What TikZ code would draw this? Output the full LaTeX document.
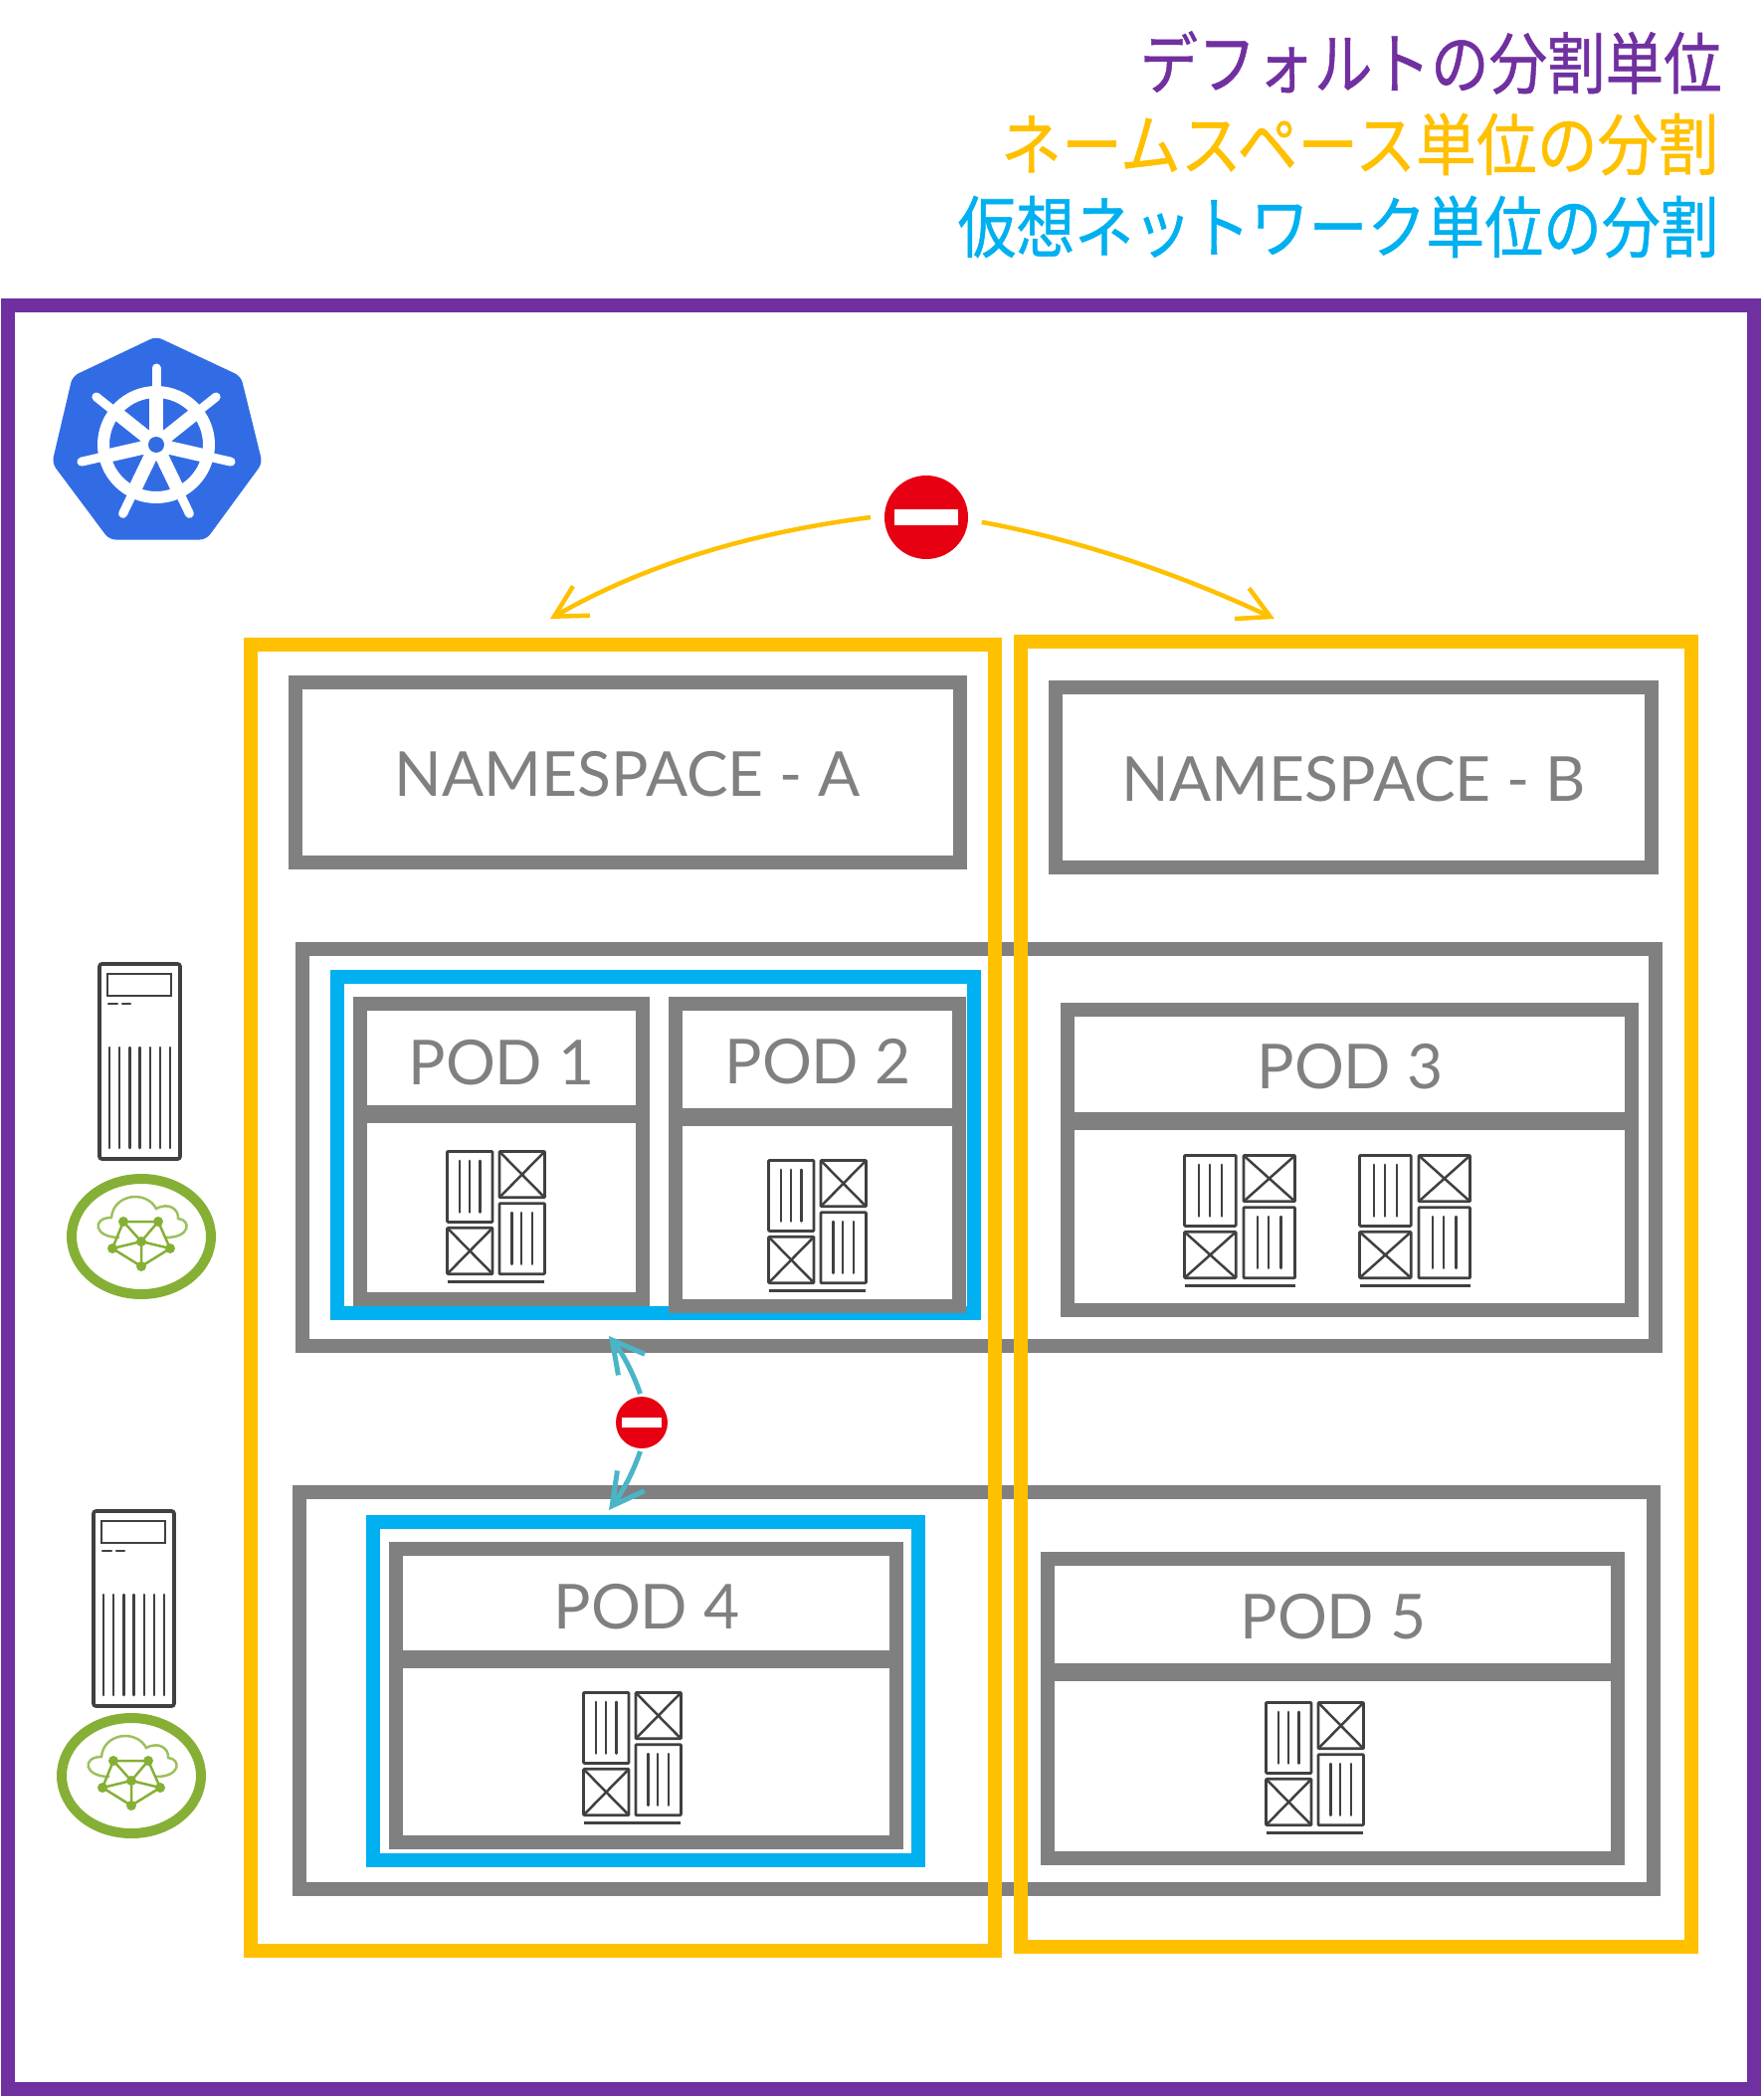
\documentclass[tikz,border=0pt]{standalone}
\usepackage{fontspec}
\setmainfont{Lato}
\newfontfamily\cjkfont[FakeBold=0.8]{Noto Sans CJK JP}
\usetikzlibrary{arrows.meta}
\definecolor{dfpurple}{HTML}{7030A0}
\definecolor{nsyellow}{HTML}{FFC000}
\definecolor{vnblue}{HTML}{00B0F0}
\definecolor{boxgray}{HTML}{808080}
\definecolor{stopred}{HTML}{E60012}
\definecolor{k8sblue}{HTML}{326CE5}
\definecolor{netgreen}{HTML}{85B035}
\definecolor{tealarrow}{HTML}{4BB5C8}
\definecolor{icongray}{HTML}{404040}
\tikzset{
  thickbox/.style={line width=0.28cm},
  titletext/.style={anchor=east,font=\cjkfont\fontsize{38.5}{40}\selectfont},
  boxtext/.style={text=boxgray,font=\fontsize{35.5}{38}\selectfont},
  stopsign/.style={circle,fill=stopred,inner sep=0pt},
  container/.pic={
    \draw[icongray,line width=0.055cm,rounded corners=0.5pt]
      (0,0) rectangle (47,72) (54,0) rectangle (101,47)
      (54,53) rectangle (101,125) (0,78) rectangle (47,125);
    \draw[icongray,line width=0.05cm] (54,0)--(101,47) (101,0)--(54,47) (0,78)--(47,125) (47,78)--(0,125);
    \foreach \x in {13,23,34} {
      \draw[icongray,line width=0.05cm,line cap=round] (\x,9.5)--(\x,62);
      \draw[icongray,line width=0.05cm,line cap=round] (54+\x,62.5)--(54+\x,115);
    }
    \draw[icongray,line width=0.05cm] (0,133)--(101,133);
  },
  server/.pic={
    \draw[icongray,line width=0.075cm,rounded corners=1.5pt] (0,0) rectangle (81,196);
    \draw[icongray,line width=0.055cm] (8,10) rectangle (72,32);
    \draw[icongray,line width=0.05cm,line cap=round] (9,40)--(18,40) (23,40)--(31,40);
    \foreach \x in {10,20.2,30.4,40.6,50.8,61,71}
      \draw[icongray,line width=0.05cm,line cap=round] (\x,84)--(\x,185);
  },
  netring/.pic={
    \draw[netgreen,line width=0.2cm] (0,0) ellipse (70 and 58);
    \begin{scope}[shift={(0,5)}]
      \draw[netgreen!80,line width=0.05cm]
        (-22,-4) .. controls (-48,-4) and (-50,-24) .. (-30,-24)
        .. controls (-28,-48) and (5,-52) .. (15,-33)
        .. controls (28,-40) and (38,-32) .. (37,-23)
        .. controls (50,-22) and (50,-4) .. (25,-4);
      \draw[netgreen,line width=0.05cm] (-18,-20)--(17,-20)--(29,7)--(0,25)--(-29,7)--cycle
        (-18,-20)--(0,0)--(17,-20) (-29,7)--(0,0)--(29,7) (0,0)--(0,25);
      \foreach \x/\y in {-18/-20,17/-20,-29/7,29/7,0/0,0/25}
        \fill[netgreen] (\x,\y) circle (5);
    \end{scope}
  }
}
\begin{document}
\begin{tikzpicture}[x=0.02cm,y=-0.02cm,>={Straight Barb[length=0.63cm,width=0.68cm]}]
\useasboundingbox (0,0) rectangle (1773,2108);
% titles
\node[titletext,xscale=0.865,text=dfpurple] (ttla) at (1736,63) {デフォルトの分割単位};
\node[titletext,xscale=0.90,text=nsyellow] (ttlb) at (1733,145) {ネームスペース単位の分割};
\node[titletext,xscale=0.87,text=vnblue] (ttlc) at (1733,228) {仮想ネットワーク単位の分割};
% cluster
\draw[dfpurple,thickbox] (8,307) rectangle (1763,2100);
% logo
\fill[k8sblue,draw=k8sblue,line width=0.1cm,line join=round,rounded corners=3pt]
  (157,341)--(240,380)--(261,465)--(206,540)--(111,540)--(55,465)--(75,380)--cycle;
\draw[white,line width=0.24cm] (157,447) circle (53);
\foreach \a in {-90,-38.57,...,270} {
  \draw[white,line width=0.27cm] (157,447)--++({\a}:54);
  \draw[white,line width=0.18cm,line cap=round] (157,447)--++({\a}:77);
}
\fill[white] (157,447) circle (16);
\fill[k8sblue] (157,447) circle (8);
% servers
\foreach \x/\y in {100/969,94/1519} \pic at (\x,\y) {server};
\foreach \x/\y in {142/1243,132/1785} \pic at (\x,\y) {netring};
% nodes
\foreach \xa/\ya/\xb/\yb in {304/954/1664/1353,301/1500/1662/1899}
  \draw[boxgray,thickbox] (\xa,\ya) rectangle (\xb,\yb);
% virtual networks
\foreach \xa/\ya/\xb/\yb in {339/982/979/1320,375/1530/923/1870}
  \draw[vnblue,thickbox] (\xa,\ya) rectangle (\xb,\yb);
% namespaces
\foreach \xa/\ya/\xb/\yb in {297/686/965/867,1061/691/1660/872}
  \draw[boxgray,thickbox] (\xa,\ya) rectangle (\xb,\yb);
\node[boxtext] (nsa) at (631,778) {NAMESPACE - A};
\node[boxtext] (nsb) at (1361,783) {NAMESPACE - B};
% pods
\foreach \xa/\ya/\xb/\yb/\yc/\nm/\lx/\ly in {
  362/1009/646/1306/1120/POD 1/504/1068,
  679/1009/964/1313/1123/POD 2/822/1067,
  1073/1015/1640/1317/1127/POD 3/1357/1072,
  398/1557/901/1852/1668/POD 4/650/1615,
  1053/1567/1626/1868/1681/POD 5/1340/1625}
{
  \draw[boxgray,thickbox] (\xa,\ya) rectangle (\xb,\yb);
  \draw[boxgray,line width=0.36cm] (\xa,\yc)--(\xb,\yc);
  \node[boxtext] at (\lx,\ly) {\nm};
}
\foreach \x/\y/\s in {449.5/1157.5/.97,772.5/1166.5/.97,1190.5/1161.5/1.1,1366.5/1161.5/1.1,586.5/1701.5/.97,1272.5/1711.5/.97}
  \pic[xscale=\s,yscale=.985] at (\x,\y) {container};
% namespace frames
\foreach \xa/\ya/\xb/\yb in {252/648/1000/1961,1026/645/1700/1957}
  \draw[nsyellow,thickbox] (\xa,\ya) rectangle (\xb,\yb);
% stop signs
\node[stopsign,minimum size=1.68cm,outer sep=0.28cm] (stopa) at (931,520) {};
\fill[white] (899,512) rectangle (963,528);
\node[stopsign,minimum size=1.04cm,outer sep=0.06cm] (stopb) at (645,1430) {};
\fill[white] (625,1425) rectangle (665,1435);
\coordinate (nsatip) at (553,622);
\coordinate (nsbtip) at (1281,622);
\coordinate (nodeatip) at (612,1343);
\coordinate (nodebtip) at (612,1518);
\draw[->,nsyellow,line width=0.09cm] (stopa.180) .. controls (790,531) and (670,555) .. (nsatip);
\draw[->,nsyellow,line width=0.09cm] (stopa.-5) .. controls (1070,540) and (1170,570) .. (nsbtip);
\draw[->,tealarrow,line width=0.1cm] (stopb.93) .. controls (637,1382) and (627,1362) .. (nodeatip);
\draw[->,tealarrow,line width=0.1cm] (stopb.-93) .. controls (637,1478) and (627,1498) .. (nodebtip);
\end{tikzpicture}
\end{document}
